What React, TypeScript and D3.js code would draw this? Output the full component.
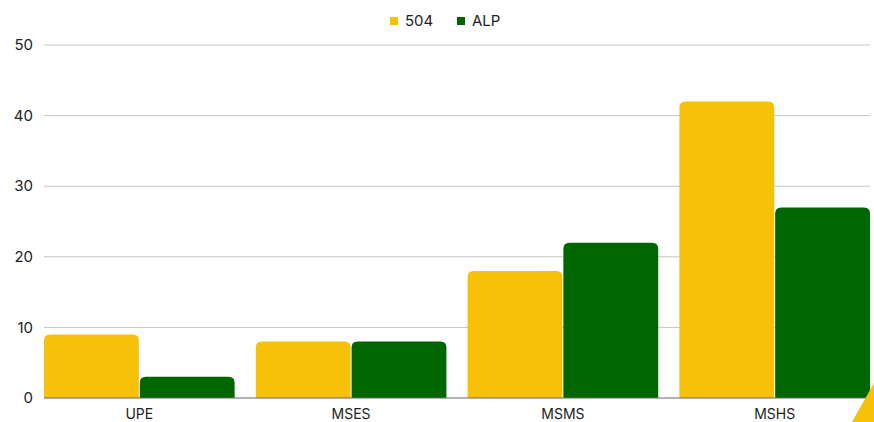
import React from "react";
import * as d3 from "d3";

const categories = ["UPE", "MSES", "MSMS", "MSHS"];
const seriesNames = ["504", "ALP"];
const values504 = [9, 8, 18, 42];
const valuesALP = [3, 8, 22, 27];
const yTicks = [0, 10, 20, 30, 40, 50];
const colors = ["#F7C107", "#006600"];

const W = 874;
const H = 422;

function topRounded(x: number, y: number, w: number, h: number, r: number) {
  const rr = Math.min(r, h, w / 2);
  return `M${x},${y + h}V${y + rr}Q${x},${y} ${x + rr},${y}H${x + w - rr}Q${x + w},${y} ${x + w},${y + rr}V${y + h}Z`;
}

export default function App() {
  const x = d3.scaleBand<string>().domain(categories).range([44, 870]).paddingInner(0.1).paddingOuter(0);
  const xs = d3.scaleBand<string>().domain(seriesNames).range([0, x.bandwidth()]).paddingInner(0.01);
  const y = d3.scaleLinear().domain([0, 50]).range([398, 45]);
  const data = [values504, valuesALP];
  const font = "Inter, 'Noto Sans', sans-serif";
  return (
    <svg width={W} height={H} style={{ position: "absolute", left: 0, top: 0 }} fontFamily={font}>
      {yTicks.map((t) => (
        <g key={t}>
          {t !== 0 && <line x1={44} x2={870} y1={y(t)} y2={y(t)} stroke="#c4c4c4" strokeWidth={1} />}
          <text x={33} y={y(t)} dy="0.35em" textAnchor="end" fontSize={15} fill="#222">{t}</text>
        </g>
      ))}
      {categories.map((c, i) =>
        seriesNames.map((s, j) => {
          const v = data[j][i];
          const bx = (x(c) as number) + (xs(s) as number);
          return <path key={c + s} d={topRounded(bx, y(v), xs.bandwidth(), y(0) - y(v), 6)} fill={colors[j]} />;
        })
      )}
      <line x1={44} x2={870} y1={y(0)} y2={y(0)} stroke="#666" strokeWidth={1} />
      {categories.map((c) => (
        <text key={c} x={(x(c) as number) + x.bandwidth() / 2} y={419} textAnchor="middle" fontSize={14} fill="#222">{c}</text>
      ))}
      {seriesNames.map((s, j) => {
        const lx = j === 0 ? 390 : 457;
        return (
          <g key={s}>
            <rect x={lx} y={17} width={8} height={8} fill={colors[j]} />
            <text x={lx + 15} y={21} dy="0.35em" fontSize={15} fill="#222">{s}</text>
          </g>
        );
      })}
      <polygon points="874,383 874,422 852,422" fill={colors[0]} />
    </svg>
  );
}
